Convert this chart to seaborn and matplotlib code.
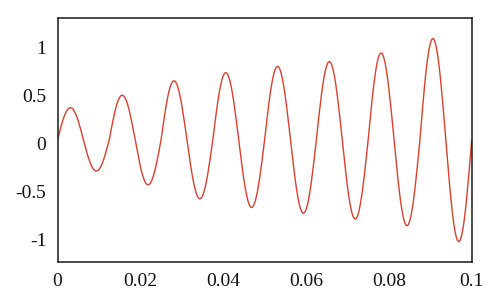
import numpy as np
import pandas as pd
import matplotlib
matplotlib.use("Agg")
import matplotlib.pyplot as plt
import seaborn as sns

# Signal samples (x from 0 to 0.1, 321 evenly spaced samples)
x_start, x_end, n_samples = 0.0, 0.1, 321
y_values = [
    # cycle 1
    0.035, 0.087, 0.139, 0.187, 0.232, 0.272, 0.306, 0.333, 0.354, 0.366,
    0.370, 0.366, 0.354, 0.333, 0.306, 0.272, 0.232, 0.187, 0.139, 0.087,
    0.035, -0.016, -0.065, -0.113, -0.156, -0.195, -0.228, -0.255, -0.274, -0.286,
    -0.290, -0.286, -0.274, -0.255, -0.228, -0.195, -0.156, -0.113, -0.065, -0.016,
    # cycle 2
    0.035, 0.108, 0.179, 0.246, 0.308, 0.364, 0.411, 0.449, 0.477, 0.494,
    0.500, 0.494, 0.477, 0.449, 0.411, 0.364, 0.308, 0.246, 0.179, 0.108,
    0.035, -0.038, -0.110, -0.178, -0.241, -0.297, -0.344, -0.383, -0.411, -0.428,
    -0.434, -0.428, -0.411, -0.383, -0.344, -0.297, -0.241, -0.178, -0.110, -0.038,
    # cycle 3
    0.035, 0.131, 0.225, 0.314, 0.397, 0.470, 0.533, 0.583, 0.620, 0.643,
    0.650, 0.643, 0.620, 0.583, 0.533, 0.470, 0.397, 0.314, 0.225, 0.131,
    0.035, -0.061, -0.155, -0.244, -0.327, -0.400, -0.463, -0.513, -0.550, -0.573,
    -0.580, -0.573, -0.550, -0.513, -0.463, -0.400, -0.327, -0.244, -0.155, -0.061,
    # cycle 4
    0.035, 0.144, 0.251, 0.353, 0.447, 0.530, 0.601, 0.659, 0.701, 0.727,
    0.735, 0.727, 0.701, 0.659, 0.601, 0.530, 0.447, 0.353, 0.251, 0.144,
    0.035, -0.075, -0.183, -0.285, -0.380, -0.463, -0.535, -0.593, -0.635, -0.662,
    -0.670, -0.662, -0.635, -0.593, -0.535, -0.463, -0.380, -0.285, -0.183, -0.075,
    # cycle 5
    0.035, 0.154, 0.271, 0.382, 0.485, 0.576, 0.654, 0.717, 0.763, 0.791,
    0.800, 0.791, 0.763, 0.717, 0.654, 0.576, 0.485, 0.382, 0.271, 0.154,
    0.035, -0.084, -0.201, -0.312, -0.415, -0.506, -0.584, -0.647, -0.693, -0.721,
    -0.730, -0.721, -0.693, -0.647, -0.584, -0.506, -0.415, -0.312, -0.201, -0.084,
    # cycle 6
    0.035, 0.162, 0.287, 0.405, 0.514, 0.611, 0.694, 0.761, 0.810, 0.840,
    0.850, 0.840, 0.810, 0.761, 0.694, 0.611, 0.514, 0.405, 0.287, 0.162,
    0.035, -0.094, -0.220, -0.340, -0.450, -0.548, -0.632, -0.700, -0.750, -0.780,
    -0.790, -0.780, -0.750, -0.700, -0.632, -0.548, -0.450, -0.340, -0.220, -0.094,
    # cycle 7
    0.035, 0.176, 0.315, 0.446, 0.567, 0.675, 0.767, 0.841, 0.896, 0.929,
    0.940, 0.929, 0.896, 0.841, 0.767, 0.675, 0.567, 0.446, 0.315, 0.176,
    0.035, -0.105, -0.242, -0.371, -0.491, -0.598, -0.689, -0.762, -0.816, -0.849,
    -0.860, -0.849, -0.816, -0.762, -0.689, -0.598, -0.491, -0.371, -0.242, -0.105,
    # cycle 8
    0.035, 0.200, 0.361, 0.514, 0.655, 0.781, 0.888, 0.975, 1.038, 1.077,
    1.090, 1.077, 1.038, 0.975, 0.888, 0.781, 0.655, 0.514, 0.361, 0.200,
    0.035, -0.130, -0.293, -0.446, -0.588, -0.714, -0.823, -0.909, -0.973, -1.012,
    -1.025, -1.012, -0.973, -0.909, -0.823, -0.714, -0.588, -0.446, -0.293, -0.130,
    # end
    0.035,
]

x_ticks = [0, 0.02, 0.04, 0.06, 0.08, 0.1]
x_tick_labels = ["0", "0.02", "0.04", "0.06", "0.08", "0.1"]
y_ticks = [-1, -0.5, 0, 0.5, 1]
y_tick_labels = ["-1", "-0.5", "0", "0.5", "1"]

x_values = np.linspace(x_start, x_end, n_samples)
df = pd.DataFrame({"t": x_values, "v": y_values})

sns.set_style("white")
plt.rcParams["font.family"] = ["Liberation Serif", "DejaVu Serif"]

fig = plt.figure(figsize=(5.0, 3.03), dpi=100)
ax = fig.add_axes([0.115, 0.1343, 0.8284, 0.8053])

sns.lineplot(data=df, x="t", y="v", ax=ax, color="#d8402f", linewidth=1.0)

ax.set_xlim(0, 0.1)
ax.set_ylim(-1.24, 1.30)
ax.set_xticks(x_ticks)
ax.set_xticklabels(x_tick_labels)
ax.set_yticks(y_ticks)
ax.set_yticklabels(y_tick_labels)
ax.set_xlabel("")
ax.set_ylabel("")
ax.tick_params(axis="both", length=0, labelsize=14, colors="#111111")
ax.tick_params(axis="y", pad=8)
ax.tick_params(axis="x", pad=7.5)
for s in ax.spines.values():
    s.set_visible(True)
    s.set_color("#1a1a1a")
    s.set_linewidth(1.1)

fig.savefig("out.png", dpi=100, facecolor="white")
